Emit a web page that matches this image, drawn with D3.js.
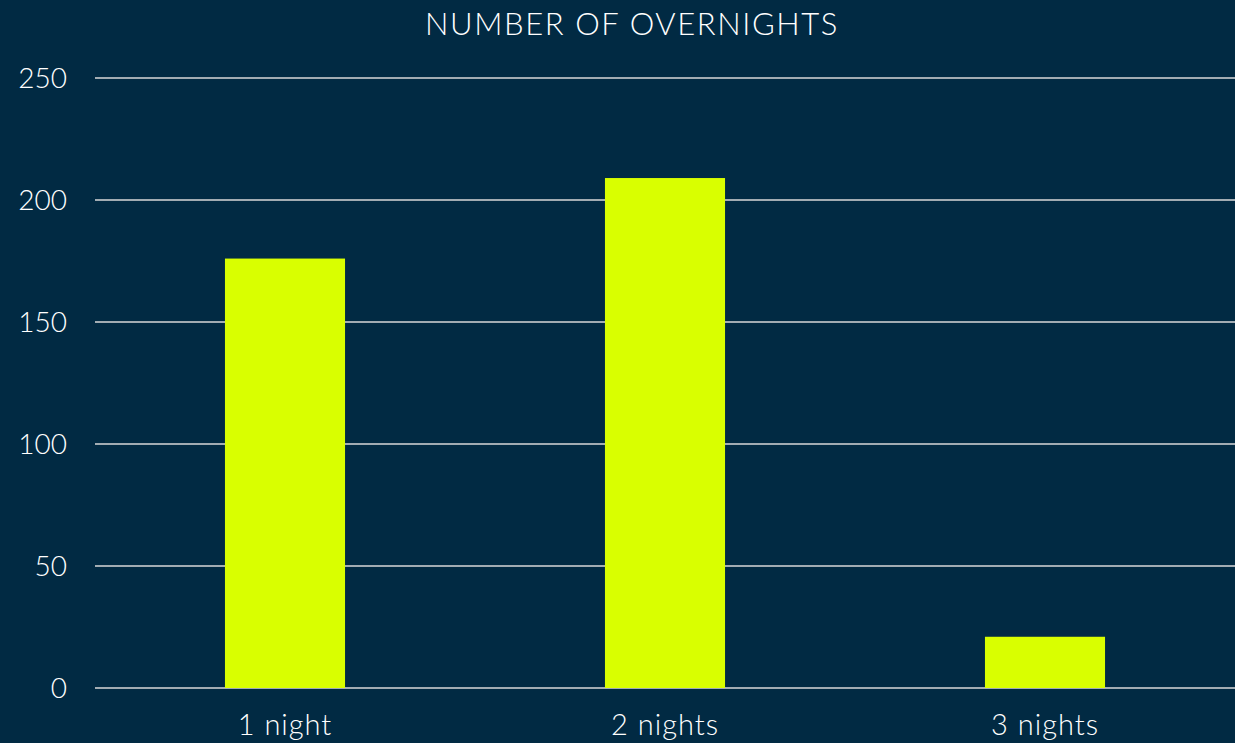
<!DOCTYPE html>
<html lang="en">
<head>
  <meta charset="UTF-8">
  <title>Number of overnights</title>
  <style>
    body { margin: 0; background: #012a43; }
    svg text { font-family: Lato, "Open Sans", sans-serif; font-weight: 300; fill: #ffffff; }
  </style>
</head>
<body>

  <svg id="svg" width="1235" height="743"></svg>

  <script src="https://d3js.org/d3.v7.min.js"></script>
  <script>
    const categories = ['1 night', '2 nights', '3 nights']
    const values = [176, 209, 21]
    const yTicks = [0, 50, 100, 150, 200, 250]
    const title = 'NUMBER OF OVERNIGHTS'

    const svg = d3.select('#svg')

    svg.append('rect')
      .attr('width', 1235)
      .attr('height', 743)
      .attr('fill', '#012a43')

    const xScale = d3.scaleBand()
      .domain(categories)
      .range([95, 1235])
      .paddingInner(0.684)
      .paddingOuter(0.342)

    const yScale = d3.scaleLinear()
      .domain([0, 250])
      .range([688, 78])

    // gridlines
    svg.append('g')
      .selectAll('line')
      .data(yTicks)
      .enter()
      .append('line')
      .attr('x1', 95)
      .attr('x2', 1235)
      .attr('y1', d => yScale(d))
      .attr('y2', d => yScale(d))
      .attr('stroke', '#d9d9d9')
      .attr('stroke-width', 1.5)

    // bars
    svg.append('g')
      .selectAll('rect')
      .data(values)
      .enter()
      .append('rect')
      .attr('x', (d, i) => xScale(categories[i]))
      .attr('y', d => yScale(d))
      .attr('width', xScale.bandwidth())
      .attr('height', d => yScale(0) - yScale(d))
      .attr('fill', '#d9ff00')

    // y labels
    svg.append('g')
      .selectAll('text')
      .data(yTicks)
      .enter()
      .append('text')
      .attr('x', 67)
      .attr('y', d => yScale(d))
      .attr('dy', '0.36em')
      .attr('text-anchor', 'end')
      .style('font-size', '28px')
      .text(d => d)

    // x labels
    svg.append('g')
      .selectAll('text')
      .data(categories)
      .enter()
      .append('text')
      .attr('x', d => xScale(d) + xScale.bandwidth() / 2)
      .attr('y', 735)
      .attr('text-anchor', 'middle')
      .style('font-size', '29px')
      .style('letter-spacing', '1px')
      .text(d => d)

    svg.append('text')
      .attr('x', 632)
      .attr('y', 35)
      .attr('text-anchor', 'middle')
      .style('font-size', '31px')
      .style('letter-spacing', '1.6px')
      .text(title)
  </script>
</body>
</html>
